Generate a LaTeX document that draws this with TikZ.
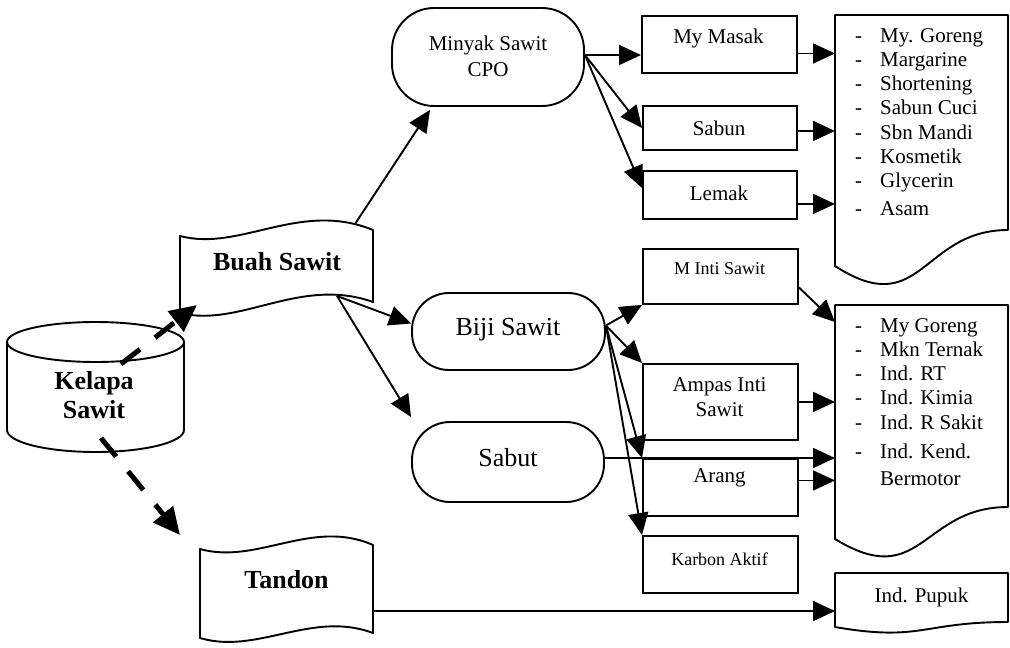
\documentclass[tikz,border=0pt]{standalone}
\usepackage{fontspec}
\setmainfont{Liberation Serif}
\usetikzlibrary{arrows.meta}
\begin{document}
\begin{tikzpicture}[x=1pt,y=-1pt,
  outl/.style={line width=1.9pt, line join=round},
  boxn/.style={draw, line width=1.9pt, rectangle, inner sep=0pt, anchor=north west},
  stadium/.style={draw, line width=1.9pt, rectangle, inner sep=0pt},
  arr/.style={line width=1.9pt, -{Triangle[length=22pt,width=20pt]}},
  darr/.style={line width=5pt, dash pattern=on 24pt off 19pt, -{Triangle[length=27pt,width=25pt]}},
  txt/.style={inner sep=0pt, anchor=base, font=\fontsize{21}{24}\selectfont},
  bigtxt/.style={inner sep=0pt, anchor=base, font=\fontsize{26}{29}\selectfont},
  boldtxt/.style={inner sep=0pt, anchor=base, font=\fontsize{26}{29}\selectfont\bfseries},
  smalltxt/.style={inner sep=0pt, anchor=base, font=\fontsize{18}{21}\selectfont},
  listtxt/.style={inner sep=0pt, anchor=base west, font=\fontsize{21}{24.3}\selectfont},
]
\useasboundingbox (0,0) rectangle (1010,648);

% ---------- Kelapa Sawit (cylinder)
\draw[outl] (95.5,342) ellipse [x radius=88.5pt, y radius=20pt];
\draw[outl] (7,342) -- (7,430) .. controls (7,442.2) and (46.6,452) .. (95.5,452)
  .. controls (144.4,452) and (184,442.2) .. (184,430) -- (184,342);
\node[boldtxt] (kel1) at (94,389) {Kelapa};
\node[boldtxt] (kel2) at (94,418) {Sawit};
\coordinate (kelA) at (121,364);
\coordinate (kelB) at (101,438);

% ---------- Buah Sawit (wave)
\draw[outl] (180,236) .. controls (240,252) and (300,200) .. (373,230) -- (373,302)
  .. controls (300,276) and (240,328) .. (180,313) -- cycle;
\node[boldtxt] (buah) at (277,270) {Buah Sawit};
\coordinate (buahTop) at (355,224);
\coordinate (buahBot) at (337,296);
\coordinate (buahIn) at (197,305);

% ---------- Tandon (wave)
\draw[outl] (200,549) .. controls (257,565) and (312,518) .. (373,545) -- (373,633)
  .. controls (312,610) and (257,655) .. (200,638) -- cycle;
\node[boldtxt] (tandon) at (286.5,588) {Tandon};
\coordinate (tandonIn) at (180,535);
\coordinate (tandonR) at (373,611);

% ---------- stadium shapes
\node[stadium, rounded corners=42pt, minimum width=192pt, minimum height=98pt] (cpo) at (488,57) {};
\node[txt] (cpo1) at (488,50) {Minyak Sawit};
\node[txt] (cpo2) at (488,76) {CPO};

\node[stadium, rounded corners=37pt, minimum width=193pt, minimum height=77pt] (biji) at (508.5,331.5) {};
\node[bigtxt] (bijit) at (508,335) {Biji Sawit};

\node[stadium, rounded corners=38pt, minimum width=192pt, minimum height=80pt] (sabut) at (508,462) {};
\node[bigtxt] (sabutt) at (508,466) {Sabut};

% ---------- product boxes
\node[boxn, minimum width=155pt, minimum height=57pt] (mymasak) at (641,15) {};
\node[txt] (mymasakt) at (718.5,43) {My Masak};
\node[boxn, minimum width=154pt, minimum height=44pt] (sabun) at (642,105) {};
\node[txt] (sabunt) at (719,135) {Sabun};
\node[boxn, minimum width=154pt, minimum height=48pt] (lemak) at (642,170) {};
\node[txt] (lemakt) at (719,200) {Lemak};

\node[boxn, minimum width=155pt, minimum height=55pt] (minti) at (642,248) {};
\node[smalltxt] (mintit) at (719.5,274) {M Inti Sawit};
\node[boxn, minimum width=155pt, minimum height=76pt] (ampas) at (642,363) {};
\node[txt] (ampas1) at (719.5,391) {Ampas Inti};
\node[txt] (ampas2) at (719.5,416) {Sawit};
\node[boxn, minimum width=155pt, minimum height=57pt] (arang) at (642,458) {};
\node[txt] (arangt) at (719.5,482) {Arang};
\node[boxn, minimum width=155pt, minimum height=57pt] (karbon) at (642,535) {};
\node[smalltxt] (karbont) at (719.5,565) {Karbon Aktif};

% ---------- list documents
\node[inner sep=0pt, minimum width=173pt, minimum height=252pt, anchor=north west] (list1) at (835,15) {};
\draw[outl] (835,15) -- (1008,15) -- (1008,230) .. controls (921.5,230) and (921.5,322) .. (835,266) -- cycle;
\node[listtxt] (list1t) at (855,42) {\begin{tabular}[t]{@{}p{25pt}@{}l@{}}
-& My. Goreng\\ -& Margarine\\ -& Shortening\\ -& Sabun Cuci\\ -& Sbn Mandi\\
-& Kosmetik\\ -& Glycerin\\[3pt] -& Asam\end{tabular}};

\node[inner sep=0pt, minimum width=173pt, minimum height=234pt, anchor=north west] (list2) at (835,305) {};
\draw[outl] (835,305) -- (1008,305) -- (1008,507) .. controls (921.5,507) and (921.5,592) .. (835,539) -- cycle;
\node[listtxt] (list2t) at (855,332) {\begin{tabular}[t]{@{}p{25pt}@{}l@{}}
-& My Goreng\\ -& Mkn Ternak\\ -& Ind. RT\\ -& Ind. Kimia\\ -& Ind. R Sakit\\[5pt]
-& Ind. Kend.\\[3pt] & Bermotor\end{tabular}};

\node[inner sep=0pt, minimum width=173pt, minimum height=54pt, anchor=north west] (pupuk) at (835,573) {};
\draw[outl] (835,573) -- (1008,573) -- (1008,622) .. controls (921.5,622) and (921.5,642) .. (835,627) -- cycle;
\node[txt] (pupukt) at (921.5,602) {Ind. Pupuk};

% ---------- connectors
\draw[darr] (kelA) -- (buahIn);
\draw[darr] (kelB) -- (tandonIn);

\draw[arr] (buahTop) -- ([xshift=-58pt,yshift=-3pt]cpo.south);
\draw[arr] (buahBot) -- ([yshift=8pt]biji.west);
\draw[arr] (buahBot) -- ([yshift=4pt]sabut.north west);

\draw[arr] ([yshift=2pt]cpo.east) -- ([yshift=2pt]cpo.east -| mymasak.west);
\draw[arr] ([yshift=2pt]cpo.east) -- (sabun.west);
\draw[arr] ([yshift=2pt]cpo.east) -- ([yshift=7pt]lemak.west);

\draw[arr] ([yshift=-9pt]mymasak.east) -- ([yshift=-9pt]mymasak.east -| list1.west);
\draw[arr] ([yshift=-3pt]sabun.east) -- ([yshift=-3pt]sabun.east -| list1.west);
\draw[arr] ([yshift=-9pt]lemak.east) -- ([yshift=-9pt]lemak.east -| list1.west);

\draw[arr] ([yshift=6pt]biji.east) -- (minti.south west);
\draw[arr] ([yshift=6pt]biji.east) -- (ampas.north west);
\draw[arr] ([yshift=6pt]biji.east) -- (arang.north west);
\draw[arr] ([yshift=6pt]biji.east) -- (karbon.north west);

\draw[arr] ([yshift=-11pt]minti.east) -- ([yshift=-17pt]list2.north west);
\draw[arr] (ampas.east) -- (ampas.east -| list2.west);
\draw[arr] ([yshift=4pt]sabut.east) -- ([yshift=4pt]sabut.east -| list2.west);
\draw[arr] ([yshift=7pt]arang.east) -- ([yshift=7pt]arang.east -| list2.west);

\draw[arr] (tandonR) -- (tandonR -| pupuk.west);
\end{tikzpicture}
\end{document}
